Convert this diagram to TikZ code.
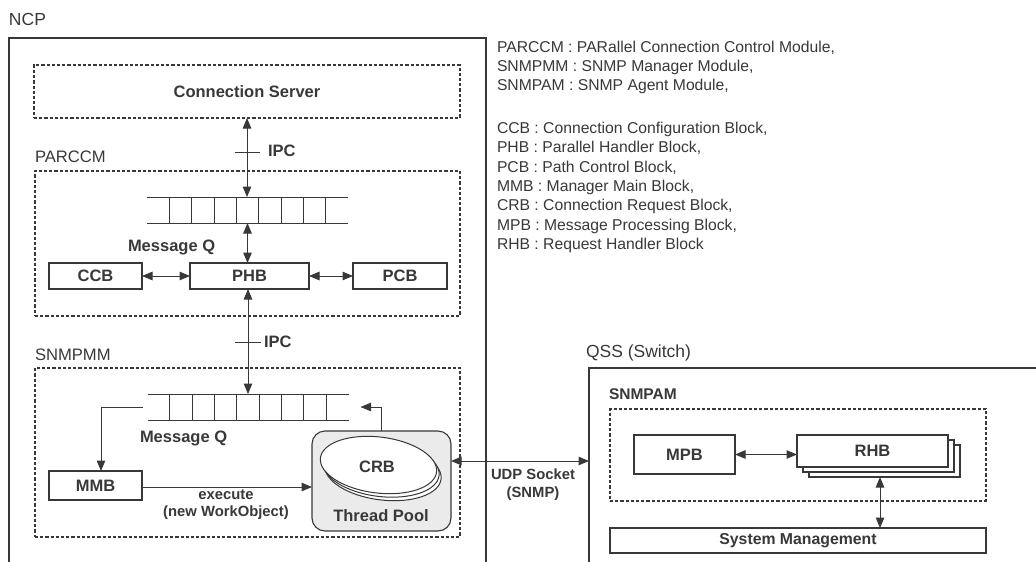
\documentclass[tikz,border=0pt]{standalone}
\usepackage{fontspec}
\setmainfont{Liberation Sans}
\usetikzlibrary{arrows.meta,calc,shapes.geometric}
\definecolor{ink}{HTML}{383838}
\definecolor{poolfill}{HTML}{EBEBEB}
\begin{document}
\begin{tikzpicture}[x=1pt,y=-1pt,
  every node/.style={text=ink, inner sep=0pt, outer sep=0pt},
  lbl/.style={font=\fontsize{16.6}{19}\selectfont, anchor=base west},
  head/.style={font=\fontsize{17.5}{20}\selectfont, anchor=base west},
  legend/.style={font=\fontsize{15.7}{19}\selectfont, anchor=base west},
  bold/.style={font=\fontsize{16.5}{19}\selectfont\bfseries},
  small/.style={font=\fontsize{14.8}{17}\selectfont\bfseries},
  blk/.style={draw=ink, line width=1.2pt, fill=white, rectangle, bold},
  dbox/.style={draw=ink, line width=1.4pt, dash pattern=on 3.2pt off 2pt, rectangle},
  frame/.style={draw=ink, line width=1.5pt},
  ar/.tip={Triangle[length=10.5pt,width=8.5pt]},
  arr/.style={draw=ink, line width=1pt, -ar},
  darr/.style={draw=ink, line width=1pt, ar-ar},
  qline/.style={draw=ink, line width=1pt},
  crbell/.style={draw=ink, line width=1pt, fill=white, ellipse, minimum width=117pt, minimum height=56pt, rotate=-7},
]
\useasboundingbox (0,0) rectangle (1036,562);

% ---------- NCP ----------
\node[head] (ncp) at (9,25) {NCP};
\draw[frame] (9,562) -- (9,38) -- (486,38) -- (486,562);

\node[dbox, minimum width=426pt, minimum height=53pt, bold] (cs) at (247,91.5) {Connection Server};

% PARCCM
\node[lbl] (parccmL) at (35,162) {PARCCM};
\node[dbox, minimum width=425pt, minimum height=145pt] (parccm) at (247.5,243.5) {};

\node[minimum width=201pt, minimum height=26pt] (q1) at (247.5,210) {};
\draw[qline] (q1.north west) -- (q1.north east) (q1.south west) -- (q1.south east);
\foreach \k in {1,...,8}
  \draw[qline] ($(q1.north west)+(\k*22.333,0)$) -- ($(q1.south west)+(\k*22.333,0)$);
\node[bold, anchor=base west] (mq1) at (128,251) {Message Q};

\draw[darr] (cs.south) -- (cs.south |- q1.north);
\coordinate (ipc1) at (247,152);
\draw[qline] (ipc1) +(-12.5,0) -- +(13,0);
\node[bold, anchor=west] (ipc1L) at (268,151) {IPC};

\node[blk, minimum width=93pt, minimum height=26pt] (ccb) at (95.5,276) {CCB};
\node[blk, minimum width=119pt, minimum height=26pt] (phb) at (249.5,276) {PHB};
\node[blk, minimum width=94pt, minimum height=26pt] (pcb) at (400,276) {PCB};
\draw[darr] (q1.south) -- (q1.south |- phb.north);
\draw[darr] (ccb) -- (phb);
\draw[darr] (phb) -- (pcb);

% SNMPMM
\node[lbl] (snmpmmL) at (35,360) {SNMPMM};
\node[dbox, minimum width=425pt, minimum height=169pt] (snmpmm) at (247.5,452.5) {};

\node[minimum width=201pt, minimum height=26pt] (q2) at (248,407) {};
\draw[qline] (q2.north west) -- (q2.north east) (q2.south west) -- (q2.south east);
\foreach \k in {1,...,8}
  \draw[qline] ($(q2.north west)+(\k*22.333,0)$) -- ($(q2.south west)+(\k*22.333,0)$);
\node[bold, anchor=base west] (mq2) at (140,442) {Message Q};

\draw[darr] (q2.north |- phb.south) -- (q2.north);
\coordinate (ipc2) at (248,342);
\draw[qline] (ipc2) +(-13,0) -- +(12.5,0);
\node[bold, anchor=west] (ipc2L) at (264,342) {IPC};

\node[blk, minimum width=93pt, minimum height=29pt] (mmb) at (95.5,485.5) {MMB};
\draw[arr] ([xshift=-5pt]q2.west) -| ([xshift=5.5pt]mmb.north);

\node[draw=ink, line width=1.1pt, fill=poolfill, rounded corners=13pt,
      minimum width=139pt, minimum height=100pt] (pool) at (381.5,481) {};
\node[crbell] (crb3) at (383,472) {};
\node[crbell] (crb2) at (381,468.5) {};
\node[crbell] (crb1) at (378.5,465) {};
\node[bold] (crbL) at (377,467) {CRB};
\node[bold, anchor=base] (poolL) at (381,521) {Thread Pool};

\draw[arr] (mmb.east |- 0,487) -- (pool.west |- 0,487);
\node[small, anchor=base] (exec1) at (226,499) {execute};
\node[small, anchor=base] (exec2) at (226,516.5) {(new WorkObject)};

\draw[arr] (pool.north) |- ([xshift=12pt]q2.east);

% ---------- QSS ----------
\node[head] (qssL) at (586,357) {QSS (Switch)};
\draw[frame] (589,562) -- (589,368) -- (1036,368);
\coordinate (qssW) at (589,461);

\draw[darr] ([yshift=20pt]pool.east) -- (qssW);
\node[small, anchor=base] (udp1) at (533,479) {UDP Socket};
\node[small, anchor=base] (udp2) at (533,497) {(SNMP)};

\node[bold, font=\fontsize{15.5}{18}\selectfont\bfseries, anchor=base west] (snmpamL) at (609,399.5) {SNMPAM};
\node[dbox, minimum width=376pt, minimum height=92pt] (snmpam) at (798,455) {};

\node[blk, minimum width=101pt, minimum height=39pt] (mpb) at (684.5,454.5) {MPB};
\node[blk, minimum width=151pt, minimum height=32pt] (rhb3) at (884.5,461) {};
\node[blk, minimum width=151pt, minimum height=32pt] (rhb2) at (878.5,456) {};
\node[blk, minimum width=151pt, minimum height=32pt] (rhb) at (872.5,451) {RHB};
\draw[darr] (mpb) -- (mpb -| rhb.west);

\node[blk, font=\fontsize{15.8}{18}\selectfont\bfseries, minimum width=376pt, minimum height=25pt] (sys) at (798,540.5) {System Management};
\draw[darr] ([xshift=7.5pt]rhb.south |- rhb3.south) -- ([xshift=7.5pt]rhb.south |- sys.north);

% ---------- legend ----------
\node[legend] (leg1) at (497,52.6) {PARCCM : PARallel Connection Control Module,};
\node[legend] (leg2) at (497,71.6) {SNMPMM : SNMP Manager Module,};
\node[legend] (leg3) at (497,90.6) {SNMPAM : SNMP Agent Module,};
\foreach \t [count=\i] in {{CCB : Connection Configuration Block,},{PHB : Parallel Handler Block,},{PCB : Path Control Block,},{MMB : Manager Main Block,},{CRB : Connection Request Block,},{MPB : Message Processing Block,},{RHB : Request Handler Block}}
  \node[legend] (legb\i) at (497,133.6+19.33*\i-19.33) {\t};
\end{tikzpicture}
\end{document}
